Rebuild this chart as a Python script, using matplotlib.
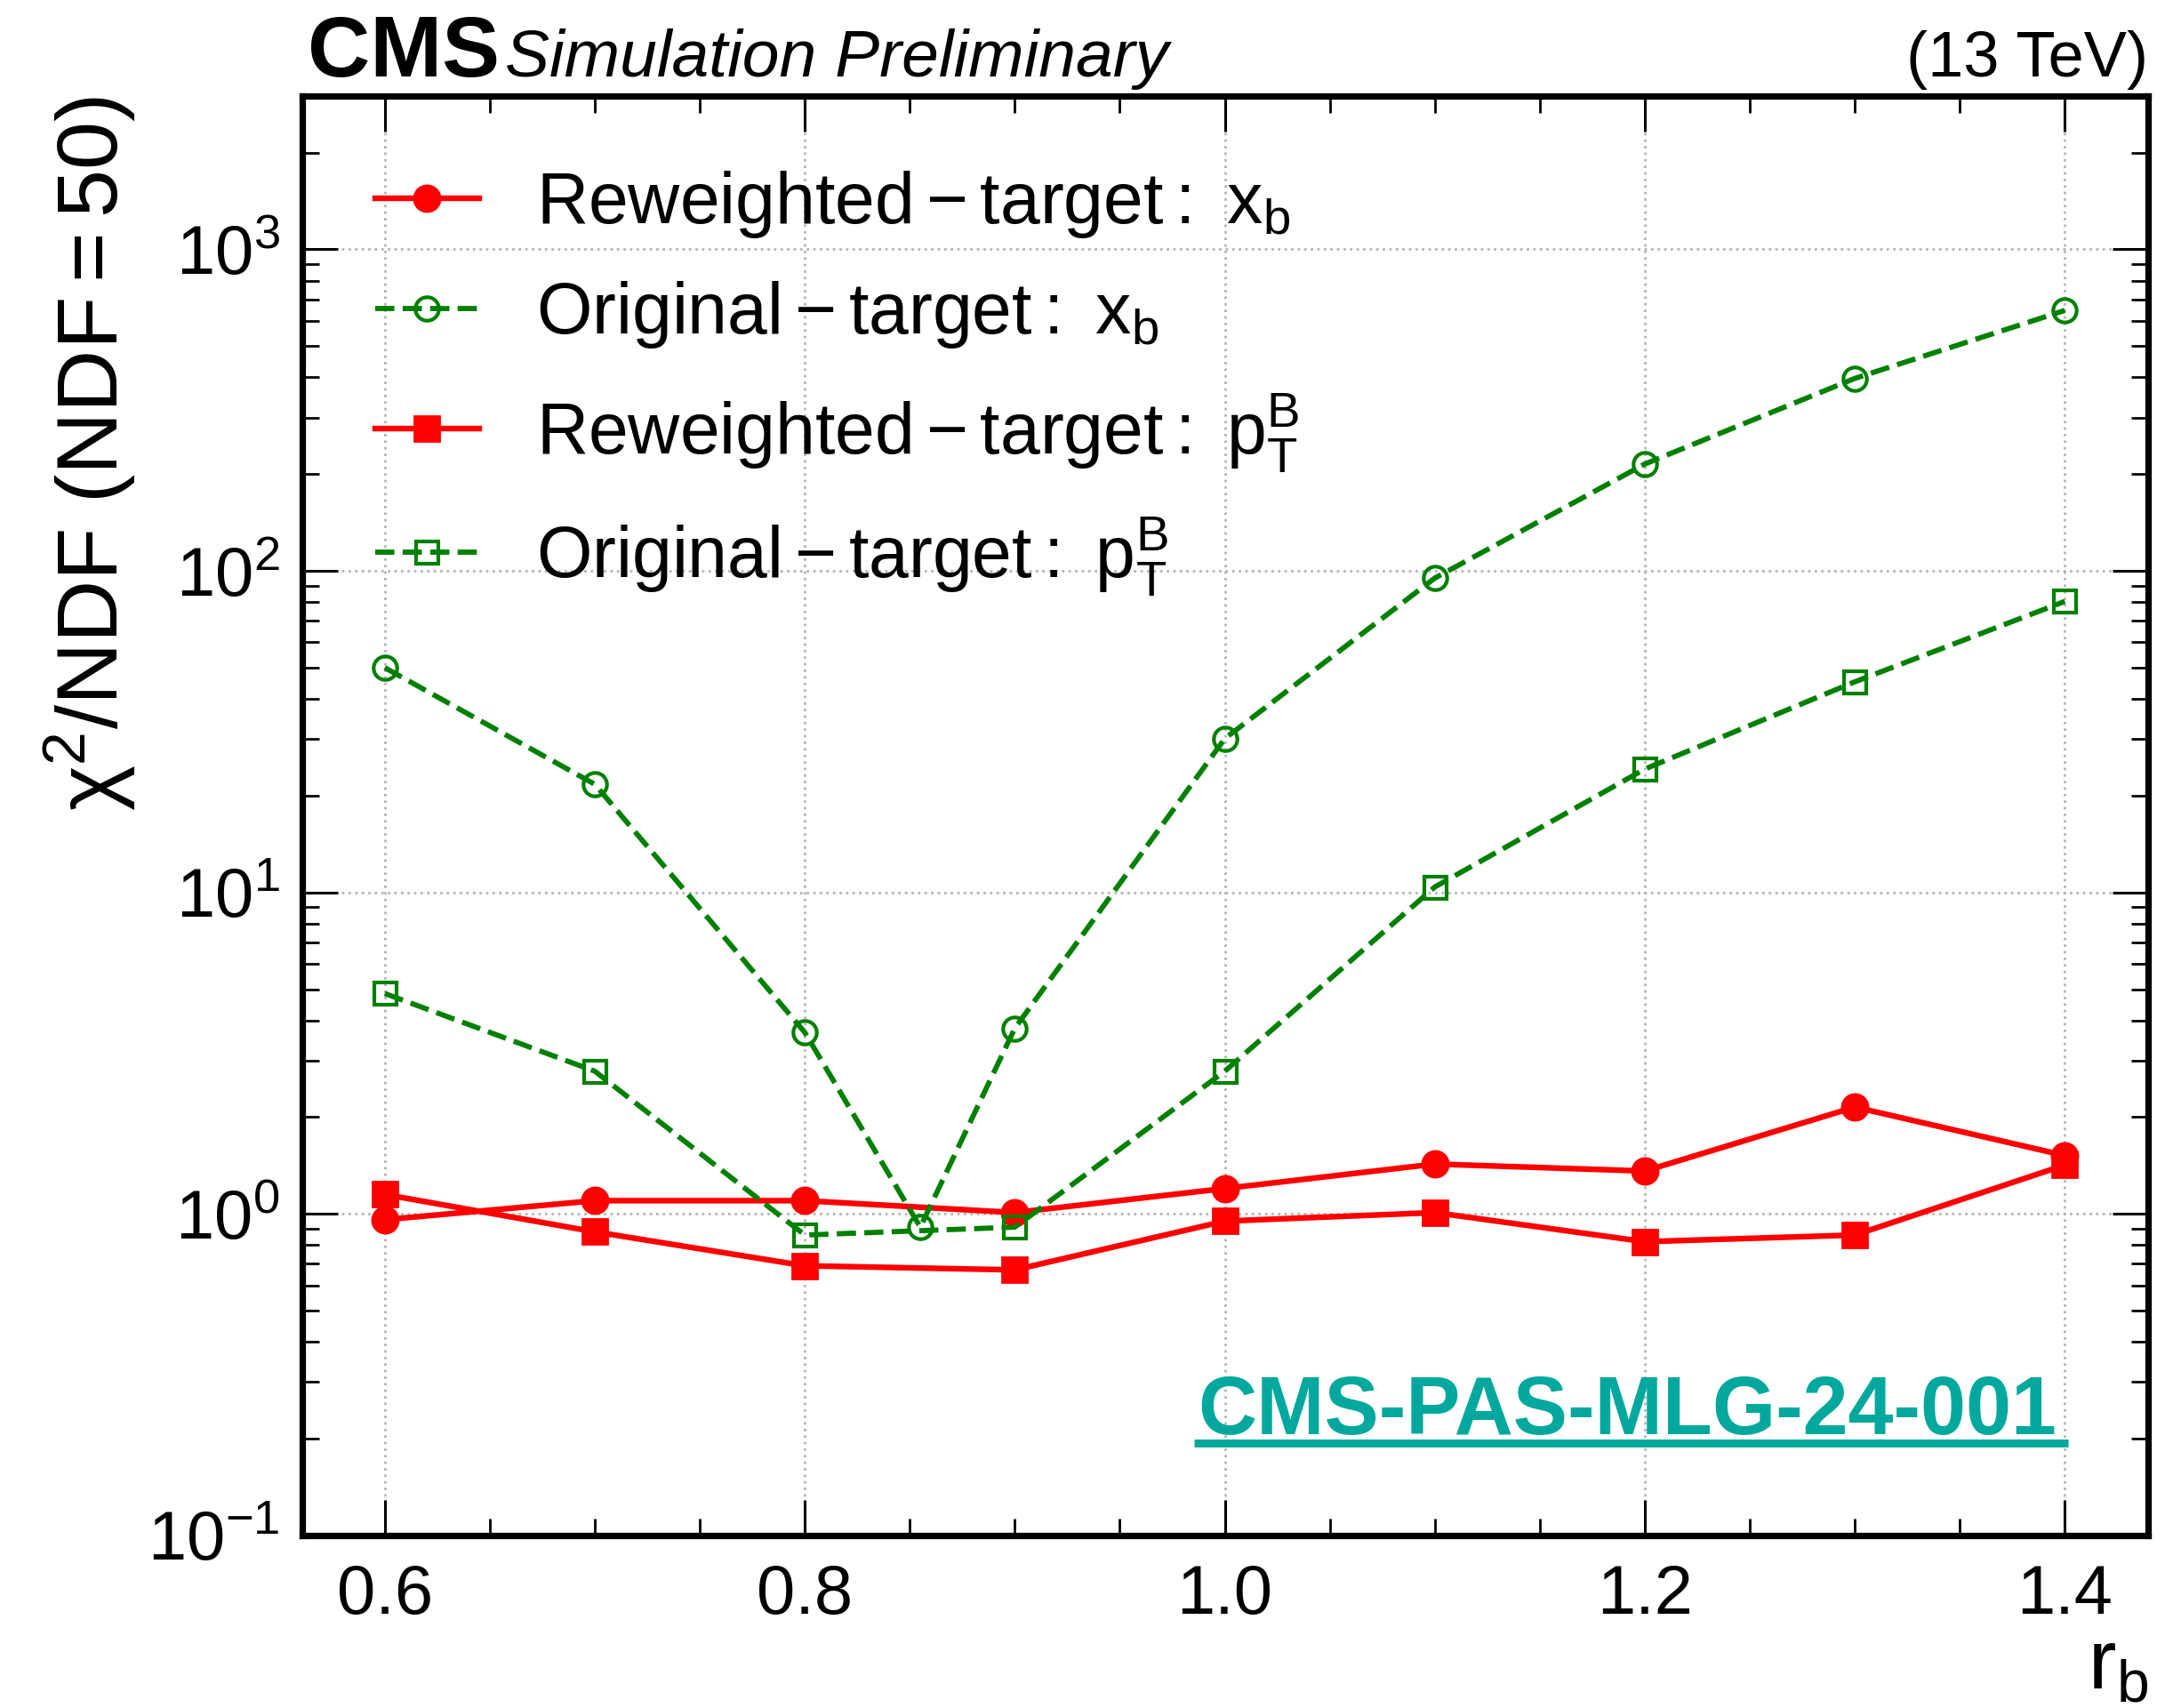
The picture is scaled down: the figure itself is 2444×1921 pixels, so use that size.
import matplotlib
matplotlib.use("Agg")
import matplotlib.pyplot as plt
from matplotlib.lines import Line2D
from matplotlib.ticker import MultipleLocator, LogLocator, NullFormatter

plt.rcParams["font.family"] = ["Liberation Sans", "DejaVu Sans"]
plt.rcParams["mathtext.fontset"] = "custom"
plt.rcParams["mathtext.rm"] = "Liberation Sans"
plt.rcParams["mathtext.it"] = "Liberation Sans:italic"
plt.rcParams["mathtext.bf"] = "Liberation Sans:bold"

# r_b scan points
rb = [0.6, 0.7, 0.8, 0.9, 1.0, 1.1, 1.2, 1.3, 1.4]
rb_orig_xb = [0.6, 0.7, 0.8, 0.855, 0.9, 1.0, 1.1, 1.2, 1.3, 1.4]

# chi2/NDF values
rew_xb = [0.96, 1.10, 1.10, 1.01, 1.20, 1.43, 1.36, 2.15, 1.52]
orig_xb = [50.0, 21.7, 3.67, 0.91, 3.78, 30.1, 95.0, 215.0, 397.0, 646.0]
rew_pt = [1.15, 0.88, 0.69, 0.67, 0.95, 1.01, 0.82, 0.86, 1.42]
orig_pt = [4.85, 2.78, 0.86, 0.91, 2.78, 10.4, 24.2, 45.2, 80.4]

labels = [
    r"$\mathrm{Reweighted - target:\ x_b}$",
    r"$\mathrm{Original - target:\ x_b}$",
    r"$\mathrm{Reweighted - target:\ p_T^B}$",
    r"$\mathrm{Original - target:\ p_T^B}$",
]

fig = plt.figure(figsize=(12.22, 9.605), dpi=200)
ax = fig.add_axes([0.139, 0.101, 0.8495, 0.8428])

ax.plot(rb, rew_xb, color="red", ls="-", lw=2.3, marker="o", ms=10.5,
        label=labels[0])
ax.plot(rb_orig_xb, orig_xb, color="green", ls="--", lw=2.1, marker="o",
        ms=9.5, mfc="none", mew=1.5, label=labels[1])
ax.plot(rb, rew_pt, color="red", ls="-", lw=2.3, marker="s", ms=10,
        label=labels[2])
ax.plot(rb, orig_pt, color="green", ls="--", lw=2.1, marker="s", ms=9,
        mfc="none", mew=1.5, label=labels[3])

ax.set_yscale("log")
ax.set_xlim(0.5606, 1.4396)
ax.set_ylim(0.1, 3000)

ax.set_xticks([0.6, 0.8, 1.0, 1.2, 1.4])
ax.set_xticklabels(["0.6", "0.8", "1.0", "1.2", "1.4"])
ax.xaxis.set_minor_locator(MultipleLocator(0.05))
ax.yaxis.set_major_locator(LogLocator(base=10, numticks=10))
ax.yaxis.set_minor_locator(LogLocator(base=10, subs=range(2, 10), numticks=20))
ax.yaxis.set_minor_formatter(NullFormatter())

ax.tick_params(which="both", direction="in", top=True, right=True,
               labelsize=28)
ax.tick_params(which="major", length=14.4, width=1.1, pad=9)
ax.tick_params(which="minor", length=6.8, width=1.0)
ax.tick_params(axis="x", which="major", pad=11)
for sp in ax.spines.values():
    sp.set_linewidth(2.6)

ax.grid(True, which="major", ls=":", color="#b5b5b5", lw=1.0)

ax.set_ylabel(r"$\mathrm{\chi^2/NDF\ (NDF = 50)}$", fontsize=35, loc="top")
ax.set_xlabel(r"$\mathrm{r_b}$", fontsize=34, loc="right", labelpad=0)

leg = ax.legend(loc="upper left", bbox_to_anchor=(0.0, 1.0), fontsize=29,
                frameon=False, handlelength=1.45, handletextpad=0.8,
                labelspacing=0.55, borderaxespad=0.62, borderpad=0.4)

# Experiment label above the frame
ax.text(0.003, 1.0136, "CMS", transform=ax.transAxes, fontsize=35,
        fontweight="bold", ha="left", va="baseline")
ax.text(0.11, 1.0136, "Simulation Preliminary", transform=ax.transAxes,
        fontsize=27, fontstyle="italic", ha="left", va="baseline")
ax.text(1.0, 1.0136, "(13 TeV)", transform=ax.transAxes, fontsize=26,
        ha="right", va="baseline")

# Document reference, underlined
teal = "#02a89d"
t = ax.text(0.9505, 0.0704, "CMS-PAS-MLG-24-001", transform=ax.transAxes,
            fontsize=33, fontweight="bold", color=teal, ha="right",
            va="baseline")
fig.canvas.draw()
bb = t.get_window_extent().transformed(ax.transAxes.inverted())
ax.add_line(Line2D([bb.x0 - 0.002, bb.x1 + 0.006], [0.0645, 0.0645],
                   transform=ax.transAxes, color=teal, lw=3.2,
                   solid_capstyle="butt", clip_on=False))

fig.savefig("out.png", dpi=200)
